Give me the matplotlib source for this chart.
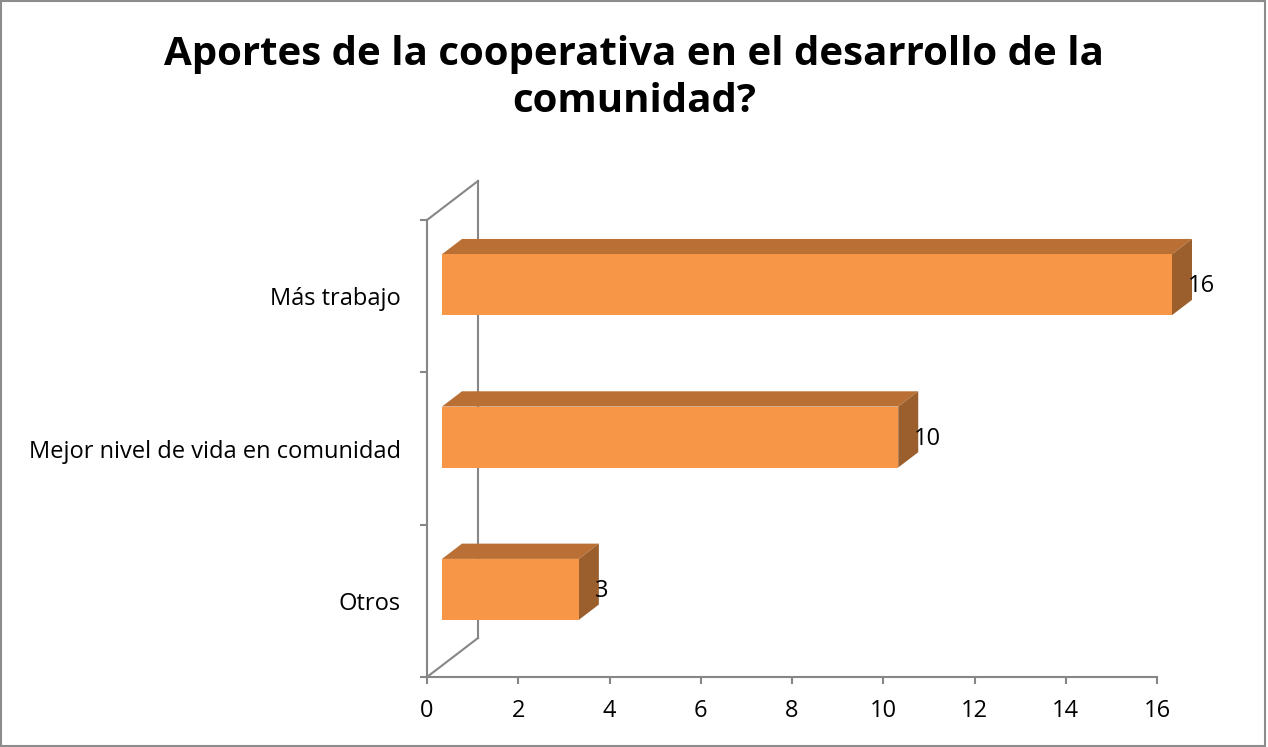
import numpy as np
import matplotlib
matplotlib.use("Agg")
from matplotlib import pyplot as plt
from matplotlib.patches import Polygon, Rectangle

title = "Aportes de la cooperativa en el desarrollo de la\ncomunidad?"
categories = ["Otros", "Mejor nivel de vida en comunidad", "Más trabajo"]
values = [3, 10, 16]
x_ticks = [0, 2, 4, 6, 8, 10, 12, 14, 16]

front_col = "#F79646"
top_col = "#BA7035"
side_col = "#9B5E2D"
grid_col = "#868686"

plt.rcParams['font.family'] = ['Open Sans', 'DejaVu Sans']

W, H = 1268, 747
fig = plt.figure(figsize=(W / 100, H / 100), dpi=100)
# front plane of the 3d box, in pixels
left, right, bottom, top = 427, 1157, 677, 220
ax = fig.add_axes([left / W, 1 - bottom / H, (right - left) / W, (bottom - top) / H])
ax.set_xlim(0, 16)
ax.set_ylim(0, 3)

# depth of the box (51 px right, 39 px up) in data units
px_x = (right - left) / 16
px_y = (bottom - top) / 3
dx, dy = 51 / px_x, 39 / px_y
f0, f1 = 0.294, 0.686
bar_h = 0.4

# walls
ax.plot([dx, dx], [dy, 3 + dy], color=grid_col, lw=1.5, clip_on=False)
ax.plot([0, dx], [3, 3 + dy], color=grid_col, lw=1.5, clip_on=False)
ax.plot([0, dx], [0, dy], color=grid_col, lw=1.5, clip_on=False)

for i, v in enumerate(values):
    y0 = i + 0.5 - bar_h / 2 + f0 * dy
    x0 = f0 * dx
    ddx, ddy = (f1 - f0) * dx, (f1 - f0) * dy
    ax.add_patch(Polygon([[x0, y0 + bar_h], [x0 + v, y0 + bar_h],
                          [x0 + v + ddx, y0 + bar_h + ddy], [x0 + ddx, y0 + bar_h + ddy]],
                         closed=True, fc=top_col, ec='none', clip_on=False, zorder=3))
    ax.add_patch(Polygon([[x0 + v, y0], [x0 + v + ddx, y0 + ddy],
                          [x0 + v + ddx, y0 + bar_h + ddy], [x0 + v, y0 + bar_h]],
                         closed=True, fc=side_col, ec='none', clip_on=False, zorder=3))
    ax.barh(y0 + bar_h / 2, v, height=bar_h, left=x0, color=front_col, zorder=4, clip_on=False)
    ax.text(v + f1 * dx - 0.09, y0 + bar_h / 2 - 0.01, str(v), ha='left', va='center',
            fontsize=17, color='black', zorder=5, clip_on=False)

for s in ['top', 'right']:
    ax.spines[s].set_visible(False)
for s in ['left', 'bottom']:
    ax.spines[s].set_color(grid_col)
    ax.spines[s].set_linewidth(1.5)

ax.set_xticks(x_ticks)
ax.set_xticklabels([str(t) for t in x_ticks], fontsize=17)
ax.tick_params(axis='x', direction='out', length=5, width=1.5, color=grid_col, pad=11)
ax.set_yticks([0, 1, 2, 3])
ax.set_yticklabels([])
ax.tick_params(axis='y', which='major', direction='out', length=5, width=1.5, color=grid_col)
ax.set_yticks([0.5, 1.5, 2.5], minor=True)
ax.set_yticklabels(categories, minor=True, fontsize=17)
ax.tick_params(axis='y', which='minor', length=0, pad=19)

fig.text(634 / W, 1 - 78 / H, title, ha='center', va='center', fontsize=29,
         fontweight='bold', linespacing=1.25)

fig.add_artist(Rectangle((0.001, 0.001), 0.997, 0.997, transform=fig.transFigure,
                         fill=False, ec='#8c8c8c', lw=1.5))

fig.savefig("out.png", dpi=100)
